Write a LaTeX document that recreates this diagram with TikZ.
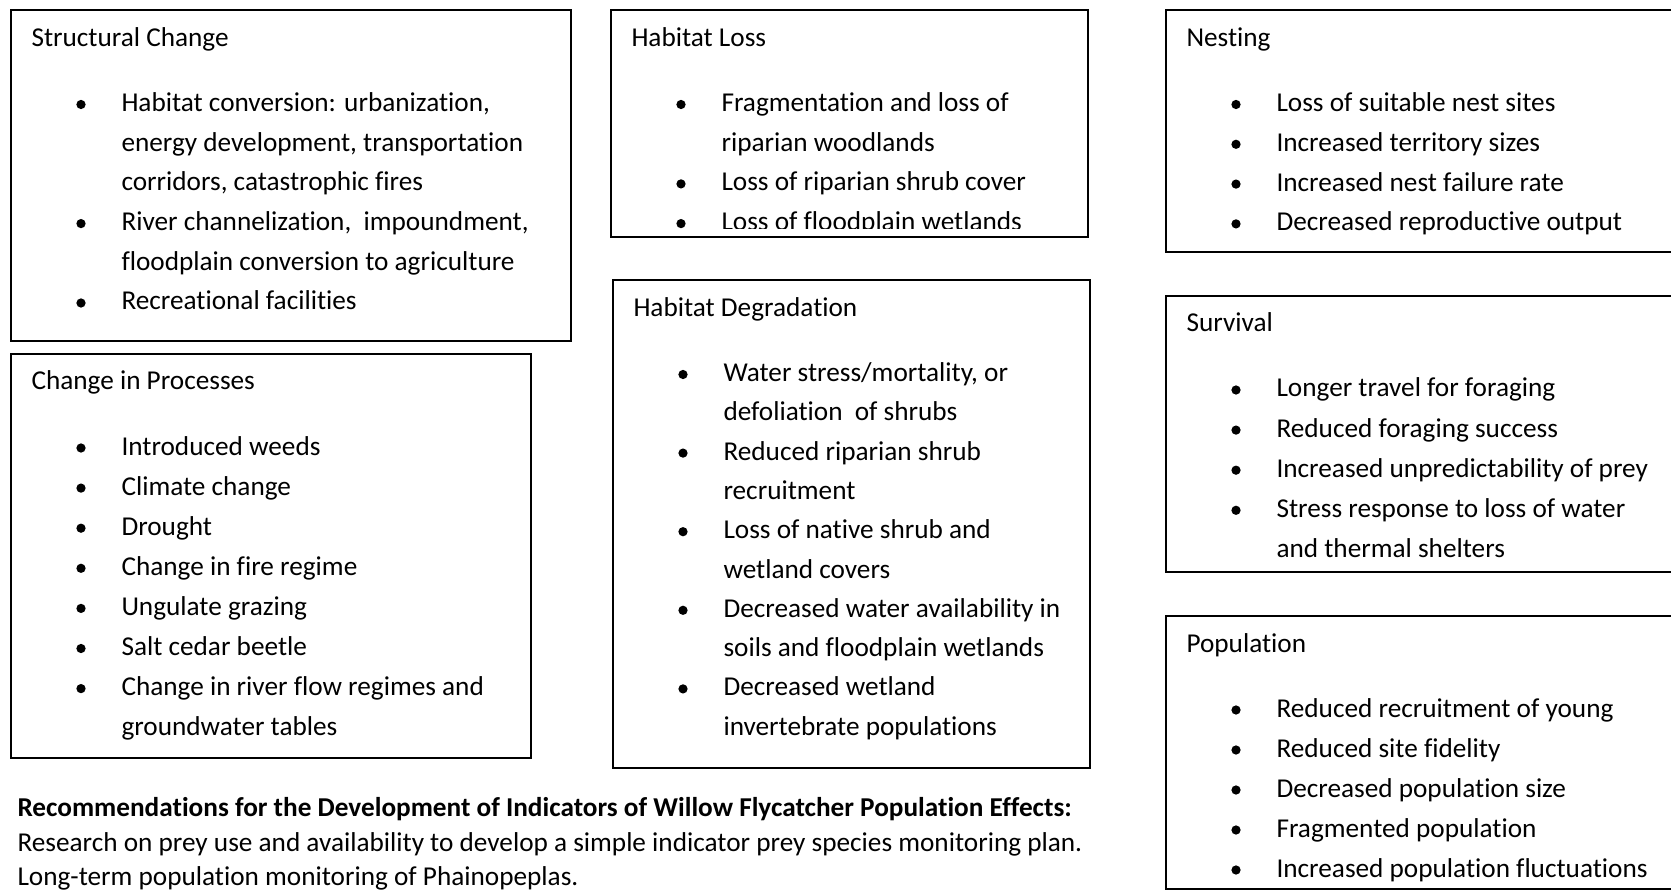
\documentclass[tikz,border=0pt]{standalone}
\usepackage{fontspec}
\setmainfont{Carlito}[Ligatures=NoCommon]
\usetikzlibrary{calc}

\newcommand\panelfont{\fontsize{10.9}{13}\selectfont}
\newcommand\rowgap{39.7}

\tikzset{
  panel/.style={draw=black, line width=0.8pt, anchor=north west,
                inner sep=0pt, outer sep=0pt},
  paneltitle/.style={anchor=base west, inner sep=0pt, font=\panelfont},
  itemtext/.style={anchor=base west, inner sep=0pt, font=\panelfont},
  notetext/.style={anchor=base west, inner sep=0pt, font=\panelfont},
}

% a framed panel with its heading: name, left, top, width, height, heading
\newcommand\makepanel[6]{%
  \node[panel, minimum width=#4*0.4pt, minimum height=#5*0.4pt] (#1) at (#2,#3) {};
  \node[paneltitle] (#1-title) at ($(#1.north west)+(20,36)$) {#6};
}
% a bulleted row inside a panel: panel, row number, text
\newcommand\bulletrow[3]{%
  \node[itemtext] (#1-#2) at ($(#1.north west)+(110,{101+\rowgap*#2})$) {#3};
  \fill ($(#1-#2.base west)+(-40,-7)$) circle (1.85pt);
}
% a continuation row (no bullet)
\newcommand\plainrow[3]{%
  \node[itemtext] (#1-#2) at ($(#1.north west)+(110,{101+\rowgap*#2})$) {#3};
}

\begin{document}
\begin{tikzpicture}[x=0.4pt, y=-0.4pt]
\useasboundingbox (0,0) rectangle (1671,891);

% ---- left column ----
\makepanel{structural}{11}{10.5}{560}{330.5}{Structural Change}
\bulletrow{structural}{0}{Habitat conversion: urbanization,}
\plainrow{structural}{1}{energy development, transportation}
\plainrow{structural}{2}{corridors, catastrophic fires}
\bulletrow{structural}{3}{River channelization,~ impoundment,}
\plainrow{structural}{4}{floodplain conversion to agriculture}
\bulletrow{structural}{5}{Recreational facilities}

\renewcommand\rowgap{40.1}
\makepanel{processes}{11}{354}{520}{404}{Change in Processes}
\bulletrow{processes}{0}{Introduced weeds}
\bulletrow{processes}{1}{Climate change}
\bulletrow{processes}{2}{Drought}
\bulletrow{processes}{3}{Change in fire regime}
\bulletrow{processes}{4}{Ungulate grazing}
\bulletrow{processes}{5}{Salt cedar beetle}
\bulletrow{processes}{6}{Change in river flow regimes and}
\plainrow{processes}{7}{groundwater tables}

% ---- middle column ----
\renewcommand\rowgap{39.7}
\makepanel{loss}{611}{10.5}{477}{226.5}{Habitat Loss}
\bulletrow{loss}{0}{Fragmentation and loss of}
\plainrow{loss}{1}{riparian woodlands}
\bulletrow{loss}{2}{Loss of riparian shrub cover}
\begin{scope}
  \clip (loss.north west) rectangle ($(loss.south east)+(0,-8.5)$);
  \bulletrow{loss}{3}{Loss of floodplain wetlands}
\end{scope}

\renewcommand\rowgap{39.3}
\makepanel{degradation}{613}{280.5}{477}{487}{Habitat Degradation}
\bulletrow{degradation}{0}{Water stress/mortality, or}
\plainrow{degradation}{1}{defoliation~ of shrubs}
\bulletrow{degradation}{2}{Reduced riparian shrub}
\plainrow{degradation}{3}{recruitment}
\bulletrow{degradation}{4}{Loss of native shrub and}
\plainrow{degradation}{5}{wetland covers}
\bulletrow{degradation}{6}{Decreased water availability in}
\plainrow{degradation}{7}{soils and floodplain wetlands}
\bulletrow{degradation}{8}{Decreased wetland}
\plainrow{degradation}{9}{invertebrate populations}

% ---- right column ----
\renewcommand\rowgap{39.8}
\makepanel{nesting}{1166}{10.5}{520}{241.5}{Nesting}
\bulletrow{nesting}{0}{Loss of suitable nest sites}
\bulletrow{nesting}{1}{Increased territory sizes}
\bulletrow{nesting}{2}{Increased nest failure rate}
\bulletrow{nesting}{3}{Decreased reproductive output}

\renewcommand\rowgap{40.1}
\makepanel{survival}{1166}{296}{520}{276}{Survival}
\bulletrow{survival}{0}{Longer travel for foraging}
\bulletrow{survival}{1}{Reduced foraging success}
\bulletrow{survival}{2}{Increased unpredictability of prey}
\bulletrow{survival}{3}{Stress response to loss of water}
\plainrow{survival}{4}{and thermal shelters}

\renewcommand\rowgap{40}
\makepanel{population}{1166}{616}{520}{272.5}{Population}
\bulletrow{population}{0}{Reduced recruitment of young}
\bulletrow{population}{1}{Reduced site fidelity}
\bulletrow{population}{2}{Decreased population size}
\bulletrow{population}{3}{Fragmented population}
\bulletrow{population}{4}{Increased population fluctuations}

% ---- recommendations ----
\node[notetext, font=\panelfont\bfseries] (rec-head) at (17,816)
  {Recommendations for the Development of Indicators of Willow Flycatcher Population Effects:};
\node[notetext] (rec-1) at (17,851)
  {Research on prey use and availability to develop a simple indicator prey species monitoring plan.};
\node[notetext] (rec-2) at (17,885)
  {Long-term population monitoring of Phainopeplas.};
\end{tikzpicture}
\end{document}
